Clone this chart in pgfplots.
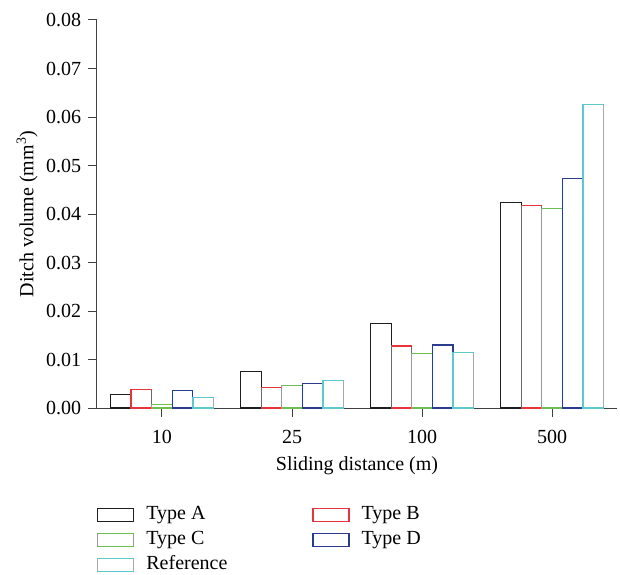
\documentclass[border=0pt]{standalone}
\usepackage{fontspec}
\setmainfont{Liberation Serif}
\usepackage{pgfplots}
\pgfplotsset{compat=1.18}

\definecolor{typeA}{HTML}{1E1E1E}
\definecolor{typeB}{HTML}{E8333B}
\definecolor{typeC}{HTML}{6CBF4E}
\definecolor{typeD}{HTML}{2B3C8E}
\definecolor{typeR}{HTML}{5DC9CC}
\definecolor{axisgray}{HTML}{404040}

\begin{document}
\fontsize{20bp}{24bp}\selectfont
\begin{tikzpicture}
\begin{axis}[
  name=main,
  scale only axis,
  width=520bp, height=388bp,
  xmin=-0.5, xmax=3.5,
  ymin=0, ymax=0.08,
  ybar=0pt, bar width=20.6bp,
  xtick={0,1,2,3},
  xticklabels={10,25,100,500},
  ytick={0,0.01,0.02,0.03,0.04,0.05,0.06,0.07,0.08},
  scaled y ticks=false,
  yticklabel style={/pgf/number format/fixed,
                    /pgf/number format/fixed zerofill,
                    /pgf/number format/precision=2},
  /pgf/number format/assume math mode=true,
  axis x line*=bottom, axis y line*=left,
  tick align=outside, major tick length=9bp,
  axis line style={draw=axisgray, line width=1bp},
  every tick/.style={draw=axisgray, line width=1bp},
  xticklabel style={yshift=-6bp},
  xlabel={Sliding distance (m)},
  ylabel={Ditch volume (mm\textsuperscript{3})},
  ylabel style={yshift=-5bp},
  legend columns=2,
  legend style={draw=none, fill=none, at={(0,-0.2535)}, anchor=north west,
    inner sep=0pt, row sep=8bp,
    nodes={inner sep=0pt, text height=13bp, text depth=4bp, anchor=west},
    /tikz/every odd column/.append style={column sep=12bp},
    /tikz/every even column/.append style={column sep=85bp}},
  legend image code/.code={\draw[#1, fill=white] (0bp,-6.5bp) rectangle (36bp,6.5bp);},
  every axis plot/.append style={line width=1.2bp, fill=white},
]
% sliding distance: 10, 25, 100, 500 m
\addplot[draw=typeA] coordinates {(0,0.0028) (1,0.0075) (2,0.0175) (3,0.0424)};
\addplot[draw=typeB] coordinates {(0,0.0038) (1,0.0042) (2,0.0128) (3,0.0418)};
\addplot[draw=typeC] coordinates {(0,0.0008) (1,0.0047) (2,0.0112) (3,0.0412)};
\addplot[draw=typeD] coordinates {(0,0.0036) (1,0.0051) (2,0.0130) (3,0.0473)};
\addplot[draw=typeR] coordinates {(0,0.0021) (1,0.0056) (2,0.0115) (3,0.0626)};
\legend{Type A, Type B, Type C, Type D, Reference}
\end{axis}
% page margins around the plot area
\pgfresetboundingbox
\path ([xshift=-97bp,yshift=-167bp]main.south west)
      rectangle ([xshift=3bp,yshift=20bp]main.north east);
\end{tikzpicture}
\end{document}
